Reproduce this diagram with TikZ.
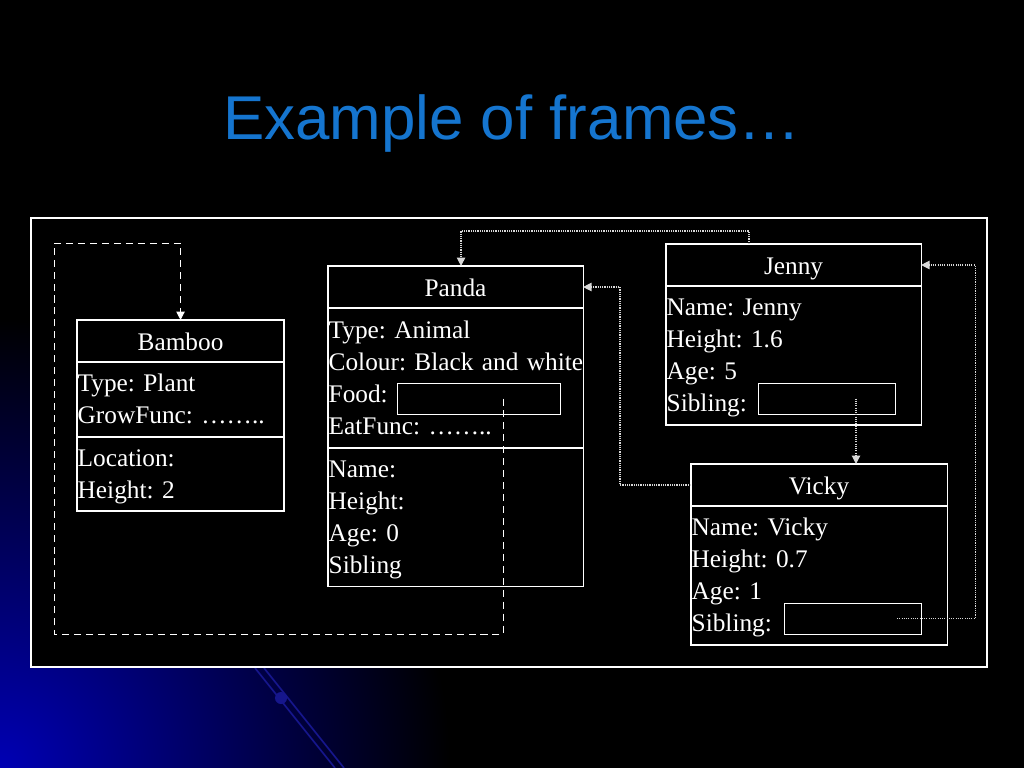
\documentclass[tikz,border=0pt]{standalone}
\usepackage{fontspec}
\setmainfont{Liberation Serif}
\newfontfamily\titlefont{Liberation Sans}
\usetikzlibrary{arrows.meta,calc,positioning}
\frenchspacing
\definecolor{Title}{HTML}{1575CF}
\definecolor{Deep}{HTML}{0000B4}
\definecolor{Streak}{HTML}{16168C}
\definecolor{Dots}{HTML}{D8D8D8}

\begin{document}
\begin{tikzpicture}[x=0.025cm,y=-0.025cm,
    head/.style={draw=white,line width=0.8pt,text=white,inner sep=0pt,outer sep=0pt,anchor=north west,
      font=\fontsize{18}{22.76}\selectfont,text height=16pt,text depth=1.8pt,minimum height=1.05cm},
    slot/.style={draw=white,line width=0.8pt,text=white,inner xsep=0.5pt,inner ysep=0pt,outer sep=0pt,
      font=\fontsize{18}{22.76}\selectfont,align=left,
      execute at begin node=\rule{0pt}{15.9pt},execute at end node=\rule[-4pt]{0pt}{4pt}},
    field/.style={draw=white,line width=0.6pt,inner sep=0pt,minimum width=3.425cm,minimum height=0.775cm},
    dashlink/.style={white,line width=0.7pt,dash pattern=on 5pt off 3.5pt,-{Triangle[length=6pt,width=6pt]}},
    dotlink/.style={Dots,line width=0.8pt,dash pattern=on 0.8pt off 0.8pt,-{Triangle[length=6pt,width=6pt]}}]
  \useasboundingbox (0,0) rectangle (1024,768);
  % slide background
  \fill[black] (0,0) rectangle (1024,768);
  \begin{scope}
    \clip (0,0) rectangle (1024,768);
    \shade[inner color=Deep,outer color=black] (0,768) circle (450);
  \end{scope}
  \draw[Streak,line width=1.2pt] (255,668) -- (335,768) (264,668) -- (344,768);
  \fill[Streak] (281,698) circle (6);
  \draw[draw=white,fill=black,line width=0.8pt] (31,218) rectangle (987,667);

  \node[font=\titlefont\fontsize{44}{50}\selectfont,text=Title,anchor=base] (title) at (512,140) {Example of frames…};

  % frames
  \node[head,minimum width=5.175cm] (bamboo) at (77,320) {Bamboo};
  \node[slot,text width=5.14cm,minimum height=1.875cm,below=0pt of bamboo] (bambooA) {Type: Plant\\GrowFunc: ……..};
  \node[slot,text width=5.14cm,minimum height=1.85cm,below=0pt of bambooA] (bambooB) {Location:\\Height: 2};

  \node[head,minimum width=6.375cm] (panda) at (328,266) {Panda};
  \node[slot,text width=6.34cm,minimum height=3.5cm,below=0pt of panda] (pandaA) {Type: Animal\\\mbox{Colour: Black and white}\\Food:\\EatFunc: ……..};
  \node[slot,text width=6.34cm,minimum height=3.45cm,below=0pt of pandaA] (pandaB) {Name:\\Height:\\Age: 0\\Sibling};
  \node[field,minimum width=4.075cm] (food) at (478.5,398.5) {};

  \node[head,minimum width=6.375cm] (jenny) at (666,244) {Jenny};
  \node[slot,text width=6.34cm,minimum height=3.475cm,below=0pt of jenny] (jennyA) {Name: Jenny\\Height: 1.6\\Age: 5\\Sibling:};
  \node[field] (jsib) at (826.5,398.5) {};

  \node[head,minimum width=6.4cm] (vicky) at (691,464) {Vicky};
  \node[slot,text width=6.365cm,minimum height=3.475cm,below=0pt of vicky] (vickyA) {Name: Vicky\\Height: 0.7\\Age: 1\\Sibling:};
  \node[field] (vsib) at (852.5,618.5) {};

  % links
  \coordinate (loop) at (54,243);
  \coordinate (jdrop) at ($(jsib.center)+(29.5,0)$);
  \draw[dashlink] ($(food.center)+(24.5,0)$) -- ++(0,235.5) -| (loop) -| (bamboo.north);
  \draw[dotlink] ($(jenny.north)+(-44.5,0)$) -- ++(0,-13) -| ($(panda.north)+(5.5,0)$);
  \draw[dotlink] (vicky.west) -- ++(-71,0) |- (panda.east);
  \draw[dotlink] (jdrop) -- (jdrop |- vicky.north);
  \draw[dotlink] ($(vsib.center)+(44.5,0)$) -| ($(jenny.east)+(54,0)$) -- (jenny.east);
\end{tikzpicture}
\end{document}
